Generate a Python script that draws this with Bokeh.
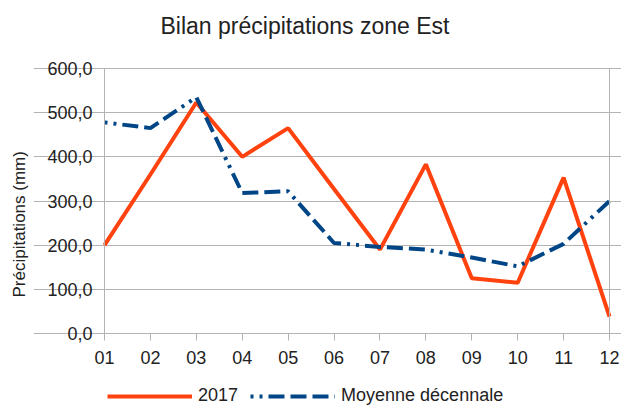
from bokeh.plotting import figure
from bokeh.models import (Range1d, FixedTicker, Legend, LegendItem, Title,
                          ColumnDataSource, LinearAxis)
from bokeh.embed import file_html
from bokeh.resources import INLINE

months = ["01", "02", "03", "04", "05", "06", "07", "08", "09", "10", "11", "12"]
rain_2017 = [200, 360, 523, 400, 465, 327, 190, 383, 125, 115, 353, 38]
rain_decade = [478, 465, 535, 318, 322, 205, 196, 190, 172, 152, 203, 300]
y_ticks = [0, 100, 200, 300, 400, 500, 600]

x_pos = list(range(1, len(months) + 1))
src = ColumnDataSource(dict(x=x_pos, a=rain_2017, b=rain_decade))

FONT = "Liberation Sans"
GRID = "#b3b3b3"
TXT = "#222222"

# layout geometry (pixels): plot box x 104..609, y 68 (top) .. 333 (zero)
W, H = 621, 407
BOX_L, BOX_R, BOX_T, BOX_B = 104, 609, 68, 333
FRAME_L, FRAME_T = 33, 48
py = (BOX_B - BOX_T) / (y_ticks[-1] - y_ticks[0])
px = (BOX_R - BOX_L) / (x_pos[-1] - x_pos[0])
x_start = x_pos[0] - (BOX_L - FRAME_L) / px
x_end = x_pos[-1] + (W - BOX_R) / px
y_end = y_ticks[-1] + (BOX_T - FRAME_T) / py
y_start = y_ticks[0] - (H - BOX_B) / py

p = figure(width=W, height=H, output_backend="svg", toolbar_location=None,
           x_range=Range1d(x_start, x_end), y_range=Range1d(y_start, y_end),
           min_border_left=FRAME_L, min_border_right=0, min_border_top=FRAME_T,
           min_border_bottom=0)

p.title.text = "Bilan précipitations zone Est"
p.title.align = "left"
p.title.offset = 56 + BOX_L - FRAME_L
p.title.vertical_align = "bottom"
p.title.standoff = 20
p.title.text_font = FONT
p.title.text_font_size = "23px"
p.title.text_font_style = "normal"
p.title.text_color = TXT

ytitle = Title(text="Précipitations (mm)", align="left", offset=110, vertical_align="bottom",
               standoff=10, text_font=FONT, text_font_size="17px",
               text_font_style="normal", text_color=TXT)
p.add_layout(ytitle, "left")

p.outline_line_color = None
p.xgrid.grid_line_color = None
p.ygrid.grid_line_color = GRID
p.ygrid.ticker = FixedTicker(ticks=y_ticks)
p.ygrid.bounds = (x_pos[0], x_pos[-1])

p.xaxis.ticker = FixedTicker(ticks=x_pos)
p.xaxis.major_label_overrides = {x: m for x, m in zip(x_pos, months)}
p.xaxis.fixed_location = y_ticks[0]
p.xaxis.bounds = (x_pos[0], x_pos[-1])
p.yaxis.ticker = FixedTicker(ticks=y_ticks)
p.yaxis.fixed_location = x_pos[0]
p.yaxis.bounds = (y_ticks[0], y_ticks[-1])
p.yaxis.major_label_overrides = {v: f"{v:.1f}".replace(".", ",") for v in y_ticks}

for ax in (p.xaxis[0], p.yaxis[0]):
    ax.axis_line_color = GRID
    ax.major_tick_line_color = GRID
    ax.minor_tick_line_color = None
    ax.major_tick_in = 0
    ax.major_label_text_font = FONT
    ax.major_label_text_color = TXT
    ax.major_label_text_font_size = "18px"
p.xaxis.major_tick_out = 7
p.xaxis.major_label_standoff = 10
p.yaxis.major_tick_out = 8
p.yaxis.major_label_standoff = 4

right_border = LinearAxis(ticker=FixedTicker(ticks=[]), bounds=(y_ticks[0], y_ticks[-1]),
                          fixed_location=x_pos[-1], axis_line_color=GRID,
                          major_tick_out=0, major_tick_in=0,
                          minor_tick_line_color=None, major_label_standoff=0)
p.add_layout(right_border, "right")

r1 = p.line("x", "a", source=src, line_color="#ff420e", line_width=4)
r2 = p.line("x", "b", source=src, line_color="#004586", line_width=4,
            line_dash="3 6 3 6 16 6 16 6 16 6")

legend = Legend(items=[LegendItem(label="2017", renderers=[r1]),
                       LegendItem(label="Moyenne décennale", renderers=[r2])],
                location=(107 - FRAME_L, 1), orientation="horizontal", padding=0, margin=0,
                spacing=12, glyph_width=85, glyph_height=18, label_height=18,
                label_standoff=6, label_text_font=FONT, label_text_font_size="18px",
                label_text_color=TXT, border_line_color=None, background_fill_alpha=0)
p.add_layout(legend, "center")

open("out.html", "w").write(file_html(p, INLINE))
